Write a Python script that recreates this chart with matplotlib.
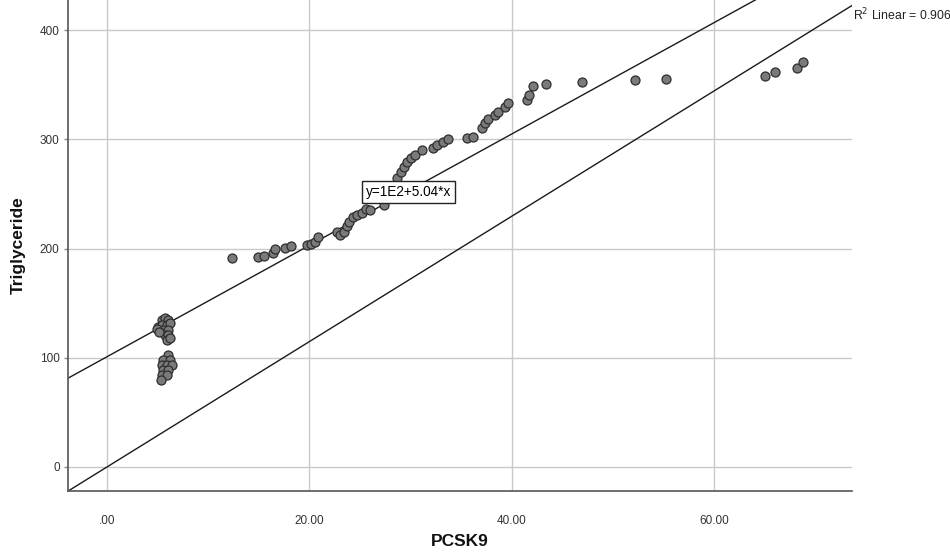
import matplotlib
matplotlib.use("Agg")
import matplotlib.pyplot as plt
import numpy as np

plt.rcParams['font.family'] = ['Liberation Sans', 'DejaVu Sans']

# PCSK9 (x) and Triglyceride (y) values
pcsk9 = [5.40, 5.73, 6.05, 5.07, 5.40, 5.90, 6.22, 5.56, 6.05, 5.73, 6.05, 5.90, 6.22, 4.90, 5.15,
         6.05, 5.56, 6.22, 5.40, 5.90, 6.39, 5.56, 6.05, 5.40, 5.90, 5.30,
         12.32, 14.94, 15.51, 16.40, 16.59, 17.58, 18.22, 19.72, 20.15, 20.59, 20.84,
         22.69, 23.01, 23.41, 23.70, 23.90, 24.30, 24.69, 25.19, 25.58, 25.98, 27.36,
         28.64, 29.04, 29.33, 29.63, 30.02, 30.42, 31.08, 32.20, 32.56, 33.19, 33.68,
         35.53, 36.15, 37.01, 37.33, 37.63, 38.32, 38.62, 39.31, 39.60,
         41.45, 41.68, 42.07, 43.41, 46.96, 52.15, 55.26, 64.99, 65.98, 68.18, 68.71]
triglyceride = [134.6, 136.1, 134.6, 128.4, 130.0, 130.0, 131.5, 125.4, 125.4, 120.8, 120.8, 116.2, 117.8, 126.0, 124.0,
                102.5, 97.9, 97.9, 93.4, 93.4, 93.4, 88.8, 88.8, 84.2, 84.2, 80.0,
                191.0, 191.8, 192.7, 196.3, 199.1, 200.9, 202.3, 203.5, 204.4, 205.9, 210.8,
                215.4, 212.4, 215.4, 220.6, 224.3, 228.8, 230.7, 232.5, 236.2, 235.2, 239.8,
                264.5, 270.0, 274.6, 279.2, 282.8, 285.6, 290.2, 292.0, 294.7, 297.8, 300.7,
                301.1, 302.3, 310.3, 314.9, 319.0, 322.2, 325.2, 329.8, 332.9,
                335.9, 340.5, 348.7, 350.6, 352.1, 354.2, 355.1, 358.2, 361.3, 364.9, 370.4]

fit_intercept = 100.9
fit_slope = 5.10
ref_slope = 5.74
r2_label = "R$^2$ Linear = 0.906"
eq_label = "y=1E2+5.04*x"

xticks = [0, 20, 40, 60]
xticklabels = [".00", "20.00", "40.00", "60.00"]
yticks = [0, 100, 200, 300, 400]
yticklabels = ["0", "100", "200", "300", "400"]

W, H = 950, 556
fig = plt.figure(figsize=(W / 100, H / 100), dpi=100)
fig.patch.set_facecolor("white")
ax = fig.add_axes([68 / W, (H - 491) / H, (852 - 68) / W, 491 / H])

xmin, xmax = -3.85, 73.6
ymin, ymax = -22.0, 427.5
ax.set_xlim(xmin, xmax)
ax.set_ylim(ymin, ymax)

ax.grid(True, color="#c9c9c9", linewidth=1.0)
ax.set_axisbelow(True)

xs = np.array([xmin, xmax])
ax.plot(xs, fit_intercept + fit_slope * xs, color="#1a1a1a", linewidth=1.0, zorder=2)
ax.plot(xs, ref_slope * xs, color="#1a1a1a", linewidth=1.0, zorder=2)

ax.scatter(pcsk9, triglyceride, s=42, facecolor="#7a7a7a", edgecolor="#2e2e2e",
           linewidth=0.9, zorder=3)

ax.text(29.8, 251.7, eq_label, fontsize=9.8, ha="center", va="center", zorder=5,
        bbox=dict(boxstyle="square,pad=0.28", facecolor="white", edgecolor="#222222", linewidth=1.0))

fig.text(852 / W + 0.001, 1 - 15 / H, r2_label, fontsize=8.8, ha="left", va="center", color="#222222")

for s in ["top", "right"]:
    ax.spines[s].set_visible(False)
for s in ["left", "bottom"]:
    ax.spines[s].set_color("#555555")
    ax.spines[s].set_linewidth(1.2)

ax.set_xticks(xticks)
ax.set_xticklabels(xticklabels)
ax.set_yticks(yticks)
ax.set_yticklabels(yticklabels)
ax.tick_params(axis="x", length=0, pad=17, labelsize=8.5, labelcolor="#333333")
ax.tick_params(axis="y", length=3, width=1, color="#888888", pad=3, labelsize=8.5, labelcolor="#333333")

ax.set_xlabel("PCSK9", fontsize=12.5, fontweight="bold", labelpad=5, color="#111111")
ax.set_ylabel("Triglyceride", fontsize=12.5, fontweight="bold", labelpad=10, color="#111111")

fig.savefig("out.png", dpi=100)
